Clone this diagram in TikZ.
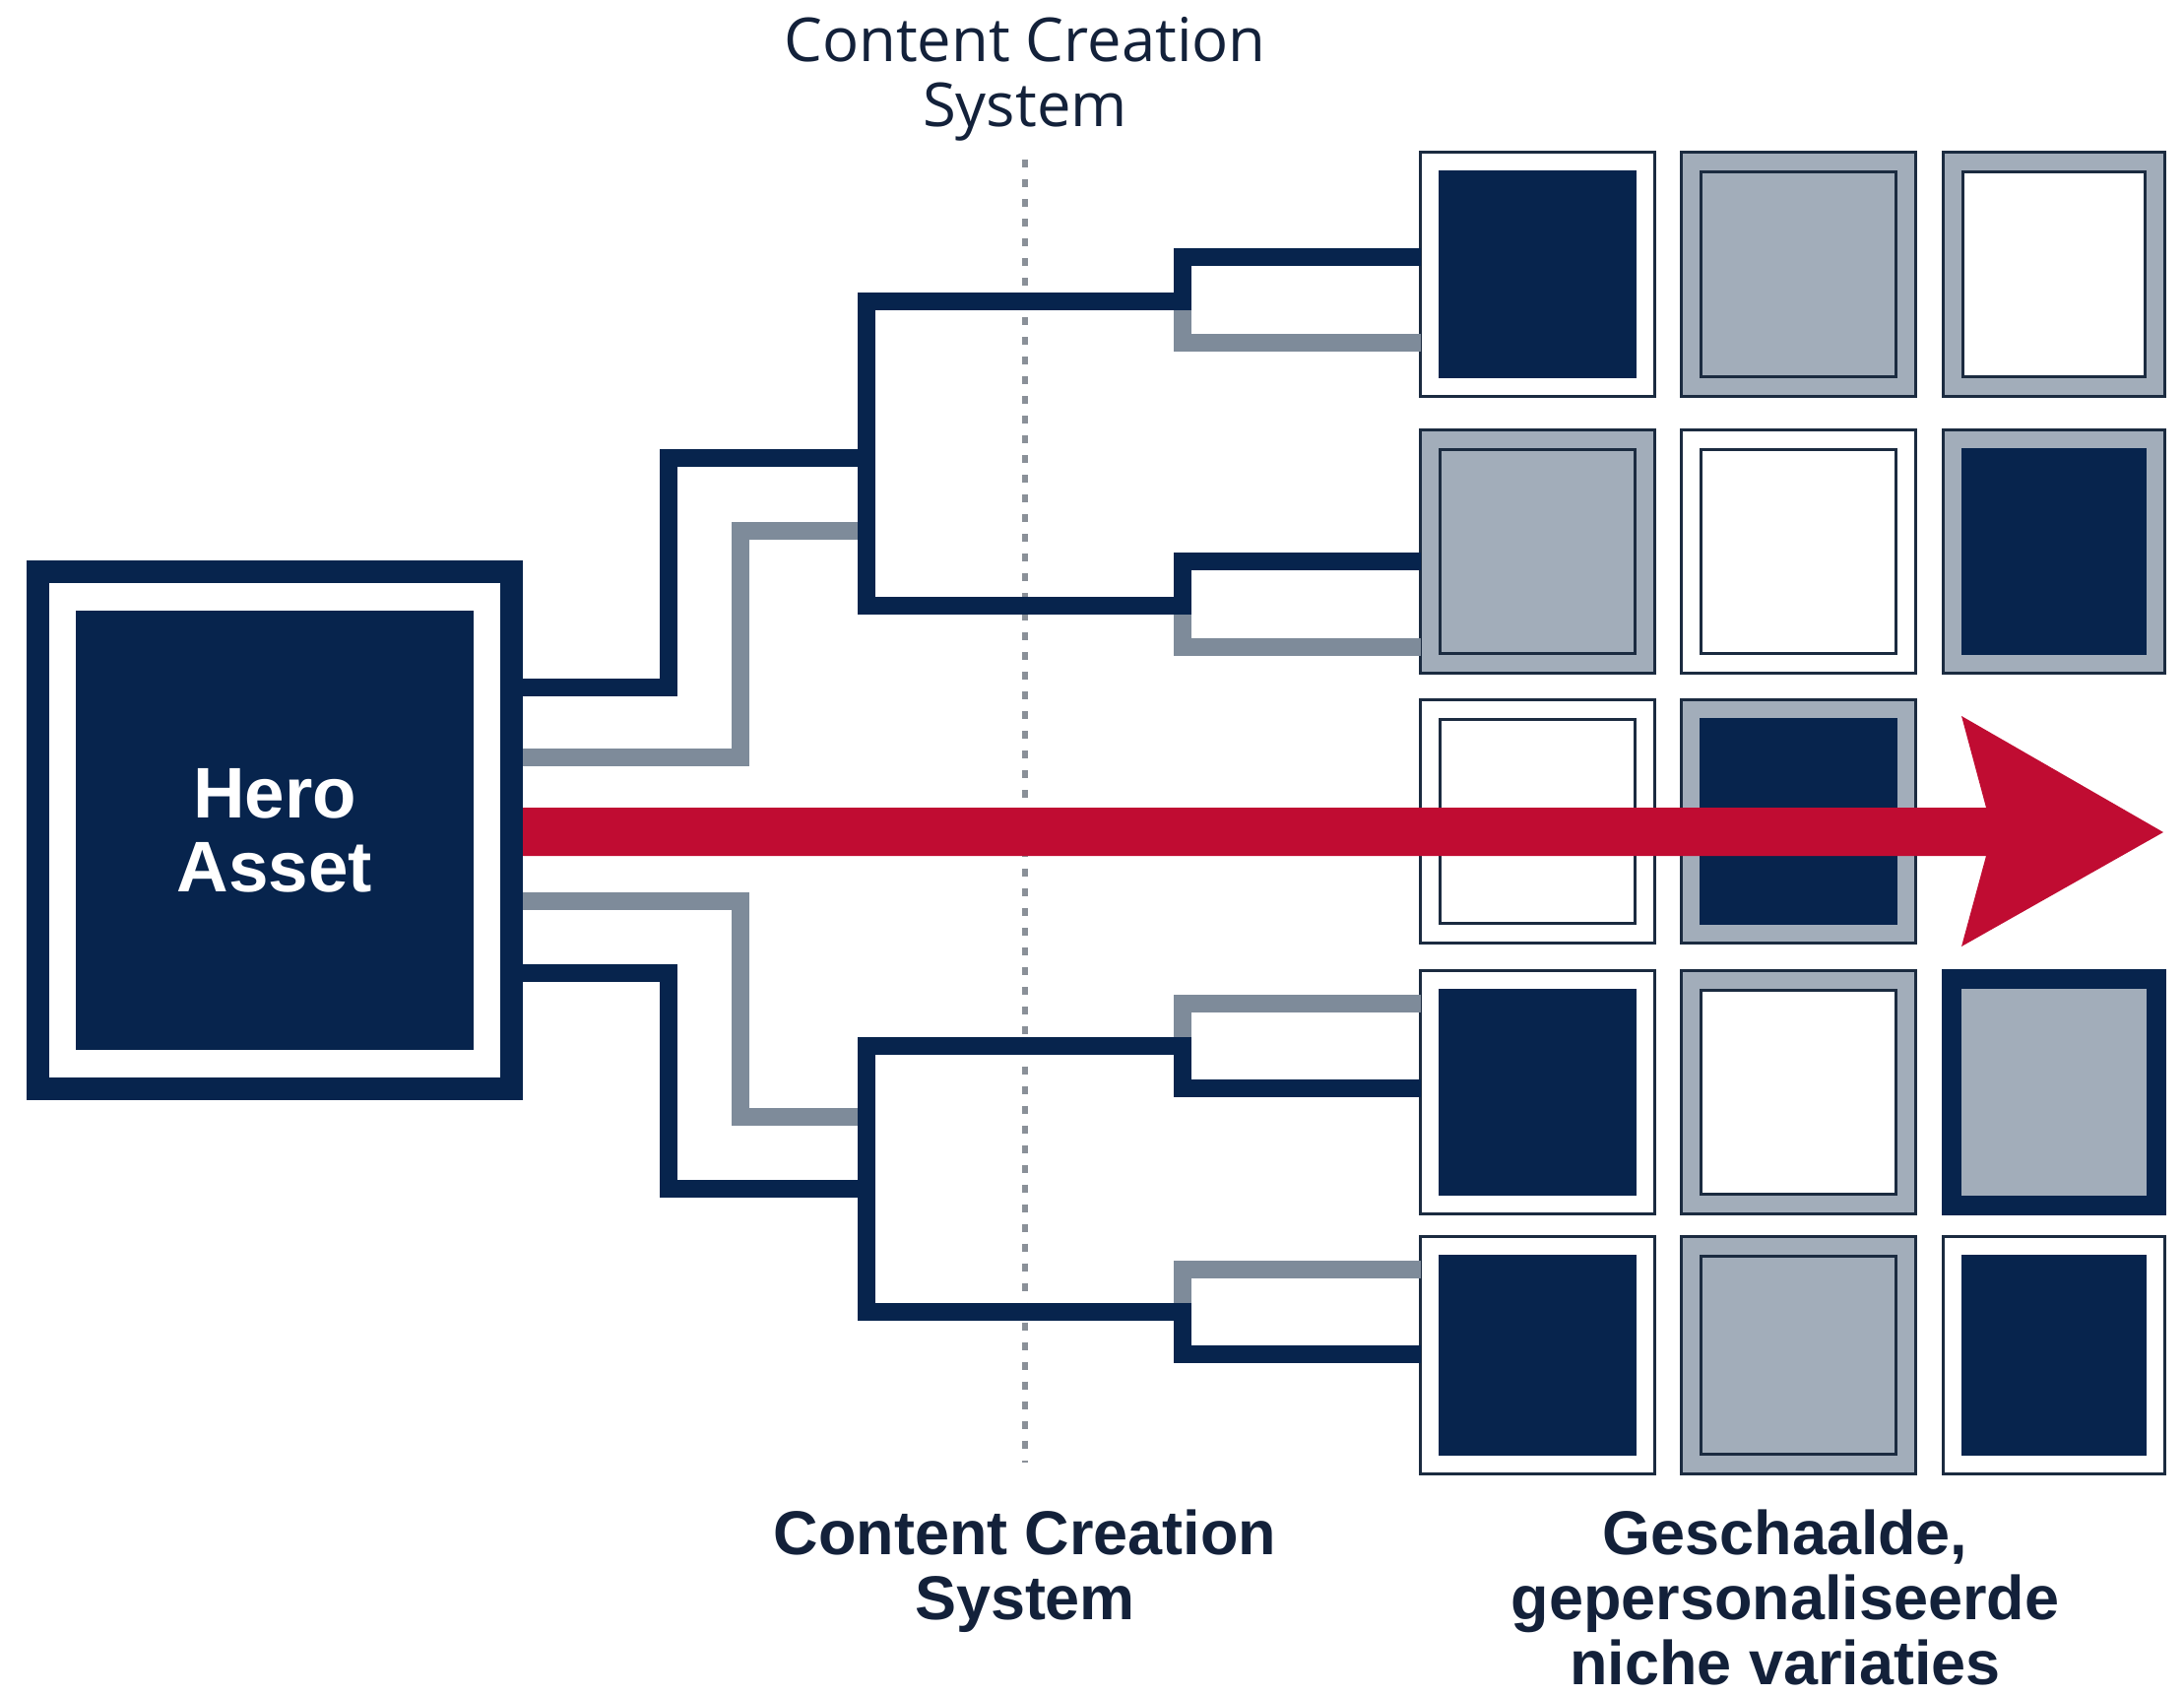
\documentclass[tikz,border=0pt]{standalone}
\usepackage{fontspec}
\setmainfont{Liberation Sans}
\newfontfamily\osans{Open Sans}
\definecolor{navy}{HTML}{07244D}
\definecolor{edgec}{HTML}{1B2B40}
\definecolor{tgray}{HTML}{A2ADBA}
\definecolor{cgray}{HTML}{7E8B9A}
\definecolor{crim}{HTML}{C00C32}
\definecolor{dotc}{HTML}{8A9098}
\definecolor{ink}{HTML}{13213A}
\newcommand\tile[9]{%
  \node[tileo, fill=#6, draw=#7, minimum width=#4, minimum height=#5] (#1) at (#2,#3) {};
  \node[tilei, fill=#8, draw=#9, minimum width=#4-0.4cm, minimum height=#5-0.4cm] (#1in) at (#1) {};
}
\begin{document}
\begin{tikzpicture}[x=0.01cm,y=-0.01cm,
  tileo/.style={line width=0.03cm, inner sep=0pt, outer sep=0pt},
  tilei/.style={line width=0.03cm, inner sep=0pt, outer sep=0pt},
  conn/.style={line width=0.18cm, line join=miter},
  dark/.style={conn, draw=navy},
  light/.style={conn, draw=cgray},
  dotline/.style={draw=dotc, line width=0.06cm, dash pattern=on 0.08cm off 0.12cm},
  lbl/.style={text=ink, align=center, anchor=north, inner sep=0pt},
  boldlbl/.style={lbl, font=\bfseries\fontsize{17.9}{18.8}\selectfont}]
\fill[white] (0,0) rectangle (2218,1722);
\useasboundingbox (0,0) rectangle (2218,1722);

% labels
\node[lbl, font=\osans\fontsize{17.5}{18.8}\selectfont] (toplbl) at (1041,17) {Content Creation\\System};
\node[boldlbl] (botlbl) at (1041,1532) {Content Creation\\System};
\node[boldlbl] (varlbl) at (1813,1532) {Geschaalde,\\gepersonaliseerde\\niche variaties};

% dotted divider
\coordinate (dtop) at (1041,162);
\coordinate (dbot) at (1041,1485);
\draw[dotline] (dtop) -- (dbot);

% hero asset
\node[fill=navy, minimum width=5.04cm, minimum height=5.48cm, inner sep=0pt, outer sep=0pt] (hero) at (279,843) {};
\node[fill=white, minimum width=4.58cm, minimum height=5.02cm, inner sep=0pt] (herogap) at (hero) {};
\node[fill=navy, minimum width=4.04cm, minimum height=4.46cm, inner sep=0pt, text=white,
  font=\bfseries\fontsize{20.7}{21.3}\selectfont, align=center] (heroin) at (hero) {Hero\\Asset};

% tiles
\tile{r1c1}{1561.5}{278.5}{2.37cm}{2.47cm}{white}{edgec}{navy}{navy}
\tile{r1c2}{1826.5}{278.5}{2.37cm}{2.47cm}{tgray}{edgec}{tgray}{edgec}
\tile{r1c3}{2086}{278.5}{2.24cm}{2.47cm}{tgray}{edgec}{white}{edgec}
\tile{r2c1}{1561.5}{560}{2.37cm}{2.46cm}{tgray}{edgec}{tgray}{edgec}
\tile{r2c2}{1826.5}{560}{2.37cm}{2.46cm}{white}{edgec}{white}{edgec}
\tile{r2c3}{2086}{560}{2.24cm}{2.46cm}{tgray}{edgec}{navy}{navy}
\tile{r3c1}{1561.5}{834}{2.37cm}{2.46cm}{white}{edgec}{white}{edgec}
\tile{r3c2}{1826.5}{834}{2.37cm}{2.46cm}{tgray}{edgec}{navy}{navy}
\tile{r4c1}{1561.5}{1109}{2.37cm}{2.46cm}{white}{edgec}{navy}{navy}
\tile{r4c2}{1826.5}{1109}{2.37cm}{2.46cm}{tgray}{edgec}{white}{edgec}
\tile{r4c3}{2086}{1109}{2.24cm}{2.46cm}{navy}{navy}{tgray}{tgray}
\tile{r5c1}{1561.5}{1376}{2.37cm}{2.40cm}{white}{edgec}{navy}{navy}
\tile{r5c2}{1826.5}{1376}{2.37cm}{2.40cm}{tgray}{edgec}{tgray}{edgec}
\tile{r5c3}{2086}{1376}{2.24cm}{2.40cm}{white}{edgec}{navy}{navy}

% grey connectors
\draw[light] (hero.east |- 0,769) -| (752,539) -- (880,539);
\draw[light] (1201,306) |- (r1c1.west |- 0,348);
\draw[light] (1201,615) |- (r2c1.west |- 0,657);
\draw[light] (hero.east |- 0,915) -| (752,1134) -- (880,1134);
\draw[light] (1201,1062) |- (r4c1.west |- 0,1019);
\draw[light] (1201,1332) |- (r5c1.west |- 0,1289);

% dark connectors
\draw[dark] (hero.east |- 0,698) -| (679,465) -- (880,465);
\draw[dark] (r1c1.west |- 0,261) -| (1201,306) -- (880,306) -- (880,615) -- (1201,615) |- (r2c1.west |- 0,570);
\draw[dark] (hero.east |- 0,988) -| (679,1207) -- (880,1207);
\draw[dark] (r4c1.west |- 0,1105) -| (1201,1062) -- (880,1062) -- (880,1332) -- (1201,1332) |- (r5c1.west |- 0,1375);

% red arrow
\coordinate (tip) at (2197,845);
\fill[crim] (hero.east |- 0,820) -- (2017,820) -- (1992,727) -- (tip) -- (1992,961) -- (2017,869) -- (hero.east |- 0,869) -- cycle;
\end{tikzpicture}
\end{document}
